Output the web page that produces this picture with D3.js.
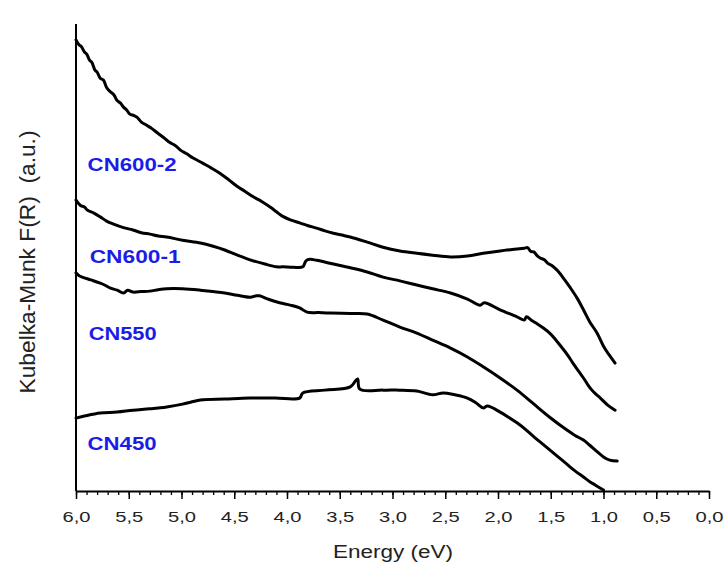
<!DOCTYPE html>
<html>
<head>
<meta charset="utf-8">
<script src="https://cdn.jsdelivr.net/npm/d3@7"></script>
<style>
  body { margin: 0; background: #fff; }
  text { font-family: Arial, "Liberation Sans", sans-serif; }
</style>
</head>
<body>
<div id="chart"></div>
<script>
// energy (eV) and Kubelka-Munk F(R) (a.u., offset curves)
const cn600_2 = [
  [6.00, 9.66], [5.97, 9.55], [5.95, 9.52], [5.92, 9.40], [5.90, 9.36], [5.87, 9.22],
  [5.85, 9.18], [5.82, 9.01], [5.80, 8.97], [5.77, 8.84], [5.74, 8.80], [5.71, 8.64],
  [5.68, 8.56], [5.64, 8.48], [5.61, 8.36], [5.58, 8.31], [5.55, 8.22], [5.52, 8.16],
  [5.49, 8.07], [5.45, 8.04], [5.42, 8.00], [5.38, 7.90], [5.33, 7.83], [5.28, 7.76],
  [5.23, 7.67], [5.17, 7.57], [5.11, 7.46], [5.06, 7.40], [5.01, 7.30], [4.95, 7.22],
  [4.89, 7.13], [4.80, 7.02], [4.72, 6.92], [4.64, 6.81], [4.55, 6.66], [4.47, 6.52],
  [4.40, 6.42], [4.32, 6.30], [4.24, 6.20], [4.16, 6.08], [4.10, 5.98], [4.04, 5.88],
  [3.96, 5.80], [3.88, 5.74], [3.80, 5.68], [3.72, 5.63], [3.64, 5.57], [3.56, 5.52],
  [3.48, 5.48], [3.40, 5.44], [3.24, 5.33], [3.09, 5.22], [2.93, 5.14], [2.77, 5.09],
  [2.62, 5.05], [2.45, 5.01], [2.29, 5.03], [2.14, 5.09], [1.98, 5.14], [1.82, 5.18],
  [1.75, 5.20], [1.72, 5.21], [1.69, 5.13], [1.66, 5.12], [1.63, 5.04], [1.60, 4.99],
  [1.56, 4.95], [1.53, 4.88], [1.49, 4.83], [1.44, 4.73], [1.38, 4.56], [1.32, 4.37],
  [1.25, 4.13], [1.19, 3.88], [1.13, 3.62], [1.06, 3.38], [0.99, 3.06], [0.89, 2.74]
];
const cn600_1 = [
  [6.00, 6.23], [5.96, 6.12], [5.92, 6.08], [5.89, 6.01], [5.83, 5.95], [5.77, 5.87],
  [5.71, 5.78], [5.65, 5.72], [5.55, 5.64], [5.46, 5.59], [5.38, 5.53], [5.30, 5.50],
  [5.22, 5.46], [5.14, 5.44], [4.99, 5.37], [4.82, 5.31], [4.70, 5.24], [4.59, 5.16],
  [4.47, 5.05], [4.35, 4.95], [4.21, 4.86], [4.10, 4.80], [4.04, 4.80], [3.94, 4.79],
  [3.85, 4.80], [3.82, 4.93], [3.78, 4.96], [3.72, 4.94], [3.56, 4.86], [3.40, 4.78],
  [3.24, 4.69], [3.09, 4.58], [2.93, 4.50], [2.77, 4.41], [2.62, 4.33], [2.45, 4.24],
  [2.29, 4.11], [2.17, 3.98], [2.13, 4.03], [1.98, 3.88], [1.82, 3.73], [1.75, 3.66],
  [1.73, 3.73], [1.68, 3.65], [1.63, 3.58], [1.57, 3.49], [1.51, 3.38], [1.45, 3.23],
  [1.39, 3.06], [1.34, 2.91], [1.29, 2.74], [1.24, 2.58], [1.19, 2.42], [1.15, 2.28],
  [1.11, 2.16], [1.07, 2.07], [1.03, 1.99], [0.96, 1.84], [0.89, 1.73]
];
const cn550 = [
  [6.00, 4.67], [5.97, 4.61], [5.94, 4.58], [5.86, 4.52], [5.77, 4.45], [5.72, 4.40],
  [5.68, 4.35], [5.61, 4.30], [5.55, 4.24], [5.51, 4.30], [5.46, 4.26], [5.38, 4.27],
  [5.30, 4.28], [5.22, 4.31], [5.14, 4.33], [4.99, 4.33], [4.82, 4.30], [4.70, 4.27],
  [4.59, 4.24], [4.47, 4.19], [4.35, 4.15], [4.29, 4.18], [4.26, 4.18], [4.17, 4.10],
  [4.07, 4.03], [3.97, 3.98], [3.88, 3.92], [3.81, 3.83], [3.70, 3.82], [3.59, 3.81],
  [3.40, 3.80], [3.24, 3.79], [3.09, 3.66], [2.93, 3.51], [2.77, 3.38], [2.62, 3.23],
  [2.45, 3.06], [2.29, 2.87], [2.14, 2.66], [1.98, 2.42], [1.82, 2.16], [1.67, 1.88],
  [1.51, 1.58], [1.35, 1.31], [1.27, 1.19], [1.19, 1.09], [1.13, 0.98], [1.08, 0.88],
  [1.00, 0.73], [0.94, 0.66], [0.87, 0.64]
];
const cn450 = [
  [6.00, 1.56], [5.91, 1.61], [5.77, 1.67], [5.61, 1.69], [5.46, 1.73], [5.30, 1.76],
  [5.14, 1.80], [4.99, 1.86], [4.90, 1.91], [4.82, 1.95], [4.59, 1.97], [4.35, 1.99],
  [4.11, 1.99], [3.88, 1.99], [3.85, 2.10], [3.64, 2.16], [3.40, 2.23], [3.35, 2.36],
  [3.33, 2.40], [3.31, 2.18], [3.09, 2.16], [2.93, 2.16], [2.77, 2.14], [2.62, 2.06],
  [2.52, 2.10], [2.41, 2.06], [2.29, 1.99], [2.21, 1.89], [2.14, 1.78], [2.10, 1.82],
  [1.98, 1.69], [1.90, 1.58], [1.82, 1.46], [1.74, 1.32], [1.67, 1.18], [1.59, 1.03],
  [1.51, 0.88], [1.43, 0.73], [1.35, 0.58], [1.27, 0.43], [1.19, 0.30], [1.13, 0.20],
  [1.08, 0.13], [1.00, 0.02]
];

const seriesNames = ["CN600-2", "CN600-1", "CN550", "CN450"];
const seriesData = [cn600_2, cn600_1, cn550, cn450];
// label anchor: energy at left of text, value at baseline
const labelPos = [[5.89, 6.85], [5.87, 4.88], [5.88, 3.23], [5.89, 0.88]];
const labelLen = [89, 91, 68, 69];

const majorTicks = [6.0, 5.5, 5.0, 4.5, 4.0, 3.5, 3.0, 2.5, 2.0, 1.5, 1.0, 0.5, 0.0];
const minorTicks = d3.range(0, 61).map(i => i / 10);

const margin = {top: 24, right: 15, bottom: 74, left: 76};
const W = 724, H = 565;
const width = W - margin.left - margin.right;
const height = H - margin.top - margin.bottom;

const svg = d3.select("#chart").append("svg")
  .attr("width", W)
  .attr("height", H);

const g = svg.append("g")
  .attr("transform", `translate(${margin.left},${margin.top})`);

const x = d3.scaleLinear().domain([6, 0]).range([0, width]);
const y = d3.scaleLinear().domain([0, 10]).range([height, 0]);

// minor ticks
g.append("g")
  .attr("transform", `translate(0,${height})`)
  .call(d3.axisBottom(x).tickValues(minorTicks).tickSize(4).tickFormat(""))
  .call(s => s.select(".domain").remove())
  .selectAll("line").attr("stroke-width", 1.3);

// major ticks + labels
const xAxis = g.append("g")
  .attr("transform", `translate(0,${height})`)
  .call(d3.axisBottom(x).tickValues(majorTicks).tickSize(8).tickSizeOuter(0)
    .tickFormat(d => d3.format(".1f")(d).replace(".", ",")));
xAxis.select(".domain").attr("stroke-width", 2);
xAxis.selectAll("line").attr("stroke-width", 1.5);
xAxis.selectAll("text")
  .attr("y", 31).attr("dy", 0)
  .attr("font-size", 14)
  .attr("fill", "#222")
  .attr("textLength", 28)
  .attr("lengthAdjust", "spacingAndGlyphs");

// y axis line only
g.append("line")
  .attr("x1", 0).attr("x2", 0)
  .attr("y1", 0).attr("y2", height)
  .attr("stroke", "#000").attr("stroke-width", 2);

// curves
const line = d3.line()
  .x(d => x(d[0]))
  .y(d => y(d[1]))
  .curve(d3.curveCatmullRom.alpha(0.5));

g.selectAll(".curve")
  .data(seriesData)
  .enter()
  .append("path")
  .attr("class", "curve")
  .attr("d", line)
  .attr("fill", "none")
  .attr("stroke", "#000")
  .attr("stroke-width", 3)
  .attr("stroke-linejoin", "round")
  .attr("stroke-linecap", "round");

// series labels
g.selectAll(".lab")
  .data(seriesNames)
  .enter()
  .append("text")
  .attr("class", "lab")
  .attr("x", (d, i) => x(labelPos[i][0]))
  .attr("y", (d, i) => y(labelPos[i][1]))
  .attr("font-size", 18)
  .attr("font-weight", "bold")
  .attr("fill", "#1c1ce8")
  .attr("textLength", (d, i) => labelLen[i])
  .attr("lengthAdjust", "spacingAndGlyphs")
  .text(d => d);

// axis titles
svg.append("text")
  .attr("x", 393)
  .attr("y", 558)
  .attr("text-anchor", "middle")
  .attr("font-size", 18)
  .attr("fill", "#222")
  .attr("textLength", 120)
  .attr("lengthAdjust", "spacingAndGlyphs")
  .text("Energy (eV)");

svg.append("text")
  .attr("transform", "translate(35,262) scale(1.25,1) rotate(-90)")
  .attr("text-anchor", "middle")
  .attr("font-size", 18)
  .attr("fill", "#222")
  .style("white-space", "pre")
  .attr("textLength", 263)
  .attr("lengthAdjust", "spacingAndGlyphs")
  .text("Kubelka-Munk F(R)  (a.u.)");
</script>
</body>
</html>
